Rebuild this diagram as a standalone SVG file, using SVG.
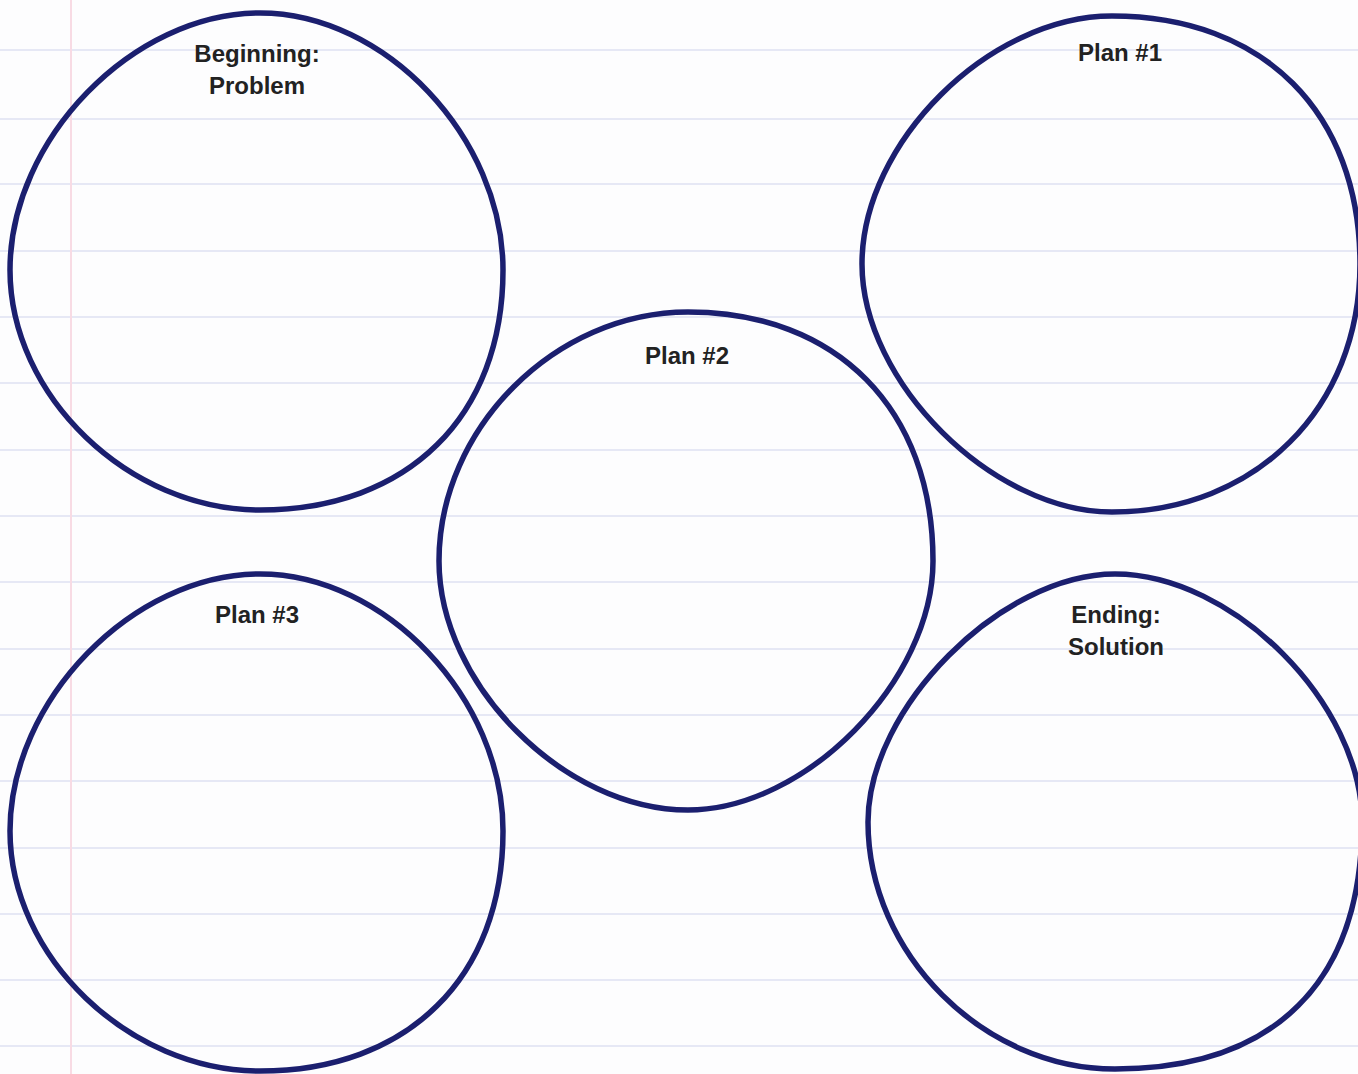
<svg xmlns="http://www.w3.org/2000/svg" width="1358" height="1074" viewBox="0 0 1358 1074">
<style>
.rule{stroke:#e6e8f5;stroke-width:2}
.margin{stroke:#f8dbe4;stroke-width:2}
.ring{fill:none;stroke:#1b1f6f;stroke-width:5.5;stroke-linejoin:round;stroke-linecap:round}
.lbl{font-family:"Liberation Sans",Arial,sans-serif;font-weight:bold;font-size:24px;fill:#222;text-anchor:middle}
</style>
<defs>
<path id="shapeA" d="M503,270 C503,416.2 408,510 260,510 C129,510 10,395.8 10,270 C10,139.2 132.8,13 260,13 C385.1,13 503,137.6 503,270 Z"/>
</defs>
<rect width="1358" height="1074" fill="#fdfdfe"/>
<g id="paper">
<line class="rule" x1="0" y1="50" x2="1358" y2="50"/>
<line class="rule" x1="0" y1="119" x2="1358" y2="119"/>
<line class="rule" x1="0" y1="184" x2="1358" y2="184"/>
<line class="rule" x1="0" y1="251" x2="1358" y2="251"/>
<line class="rule" x1="0" y1="317" x2="1358" y2="317"/>
<line class="rule" x1="0" y1="383" x2="1358" y2="383"/>
<line class="rule" x1="0" y1="450" x2="1358" y2="450"/>
<line class="rule" x1="0" y1="516" x2="1358" y2="516"/>
<line class="rule" x1="0" y1="582" x2="1358" y2="582"/>
<line class="rule" x1="0" y1="649" x2="1358" y2="649"/>
<line class="rule" x1="0" y1="715" x2="1358" y2="715"/>
<line class="rule" x1="0" y1="781" x2="1358" y2="781"/>
<line class="rule" x1="0" y1="848" x2="1358" y2="848"/>
<line class="rule" x1="0" y1="914" x2="1358" y2="914"/>
<line class="rule" x1="0" y1="980" x2="1358" y2="980"/>
<line class="rule" x1="0" y1="1046" x2="1358" y2="1046"/>
<line class="margin" x1="71" y1="0" x2="71" y2="1074"/>
</g>
<g id="connectors"></g>
<g id="beginning">
<use href="#shapeA" class="ring"/>
<text class="lbl" x="257" y="62">Beginning:</text>
<text class="lbl" x="257" y="94">Problem</text>
</g>
<g id="plan1">
<path class="ring" d="M1360,264 C1360,407.8 1255.8,512 1112,512 C992.8,512 862,382.3 862,264 C862,142.5 989.5,16 1112,16 C1263.3,16 1360,112.7 1360,264 Z"/>
<text class="lbl" x="1120" y="61">Plan #1</text>
</g>
<g id="plan2">
<path class="ring" d="M933,561 C933,680.5 805.6,810 688,810 C564.5,810 439,684.5 439,561 C439,428.3 555.3,312 688,312 C837.2,312 933,409.4 933,561 Z"/>
<text class="lbl" x="687" y="364">Plan #2</text>
</g>
<g id="plan3">
<use href="#shapeA" class="ring" transform="translate(0,561)"/>
<text class="lbl" x="257" y="623">Plan #3</text>
</g>
<g id="ending">
<path class="ring" d="M1362,822 C1362,981.8 1274.8,1069 1115,1069 C983.4,1069 868,953.7 868,822 C868,707.9 1001.4,574 1115,574 C1232.8,574 1362,703.7 1362,822 Z"/>
<text class="lbl" x="1116" y="623">Ending:</text>
<text class="lbl" x="1116" y="655">Solution</text>
</g>
</svg>
